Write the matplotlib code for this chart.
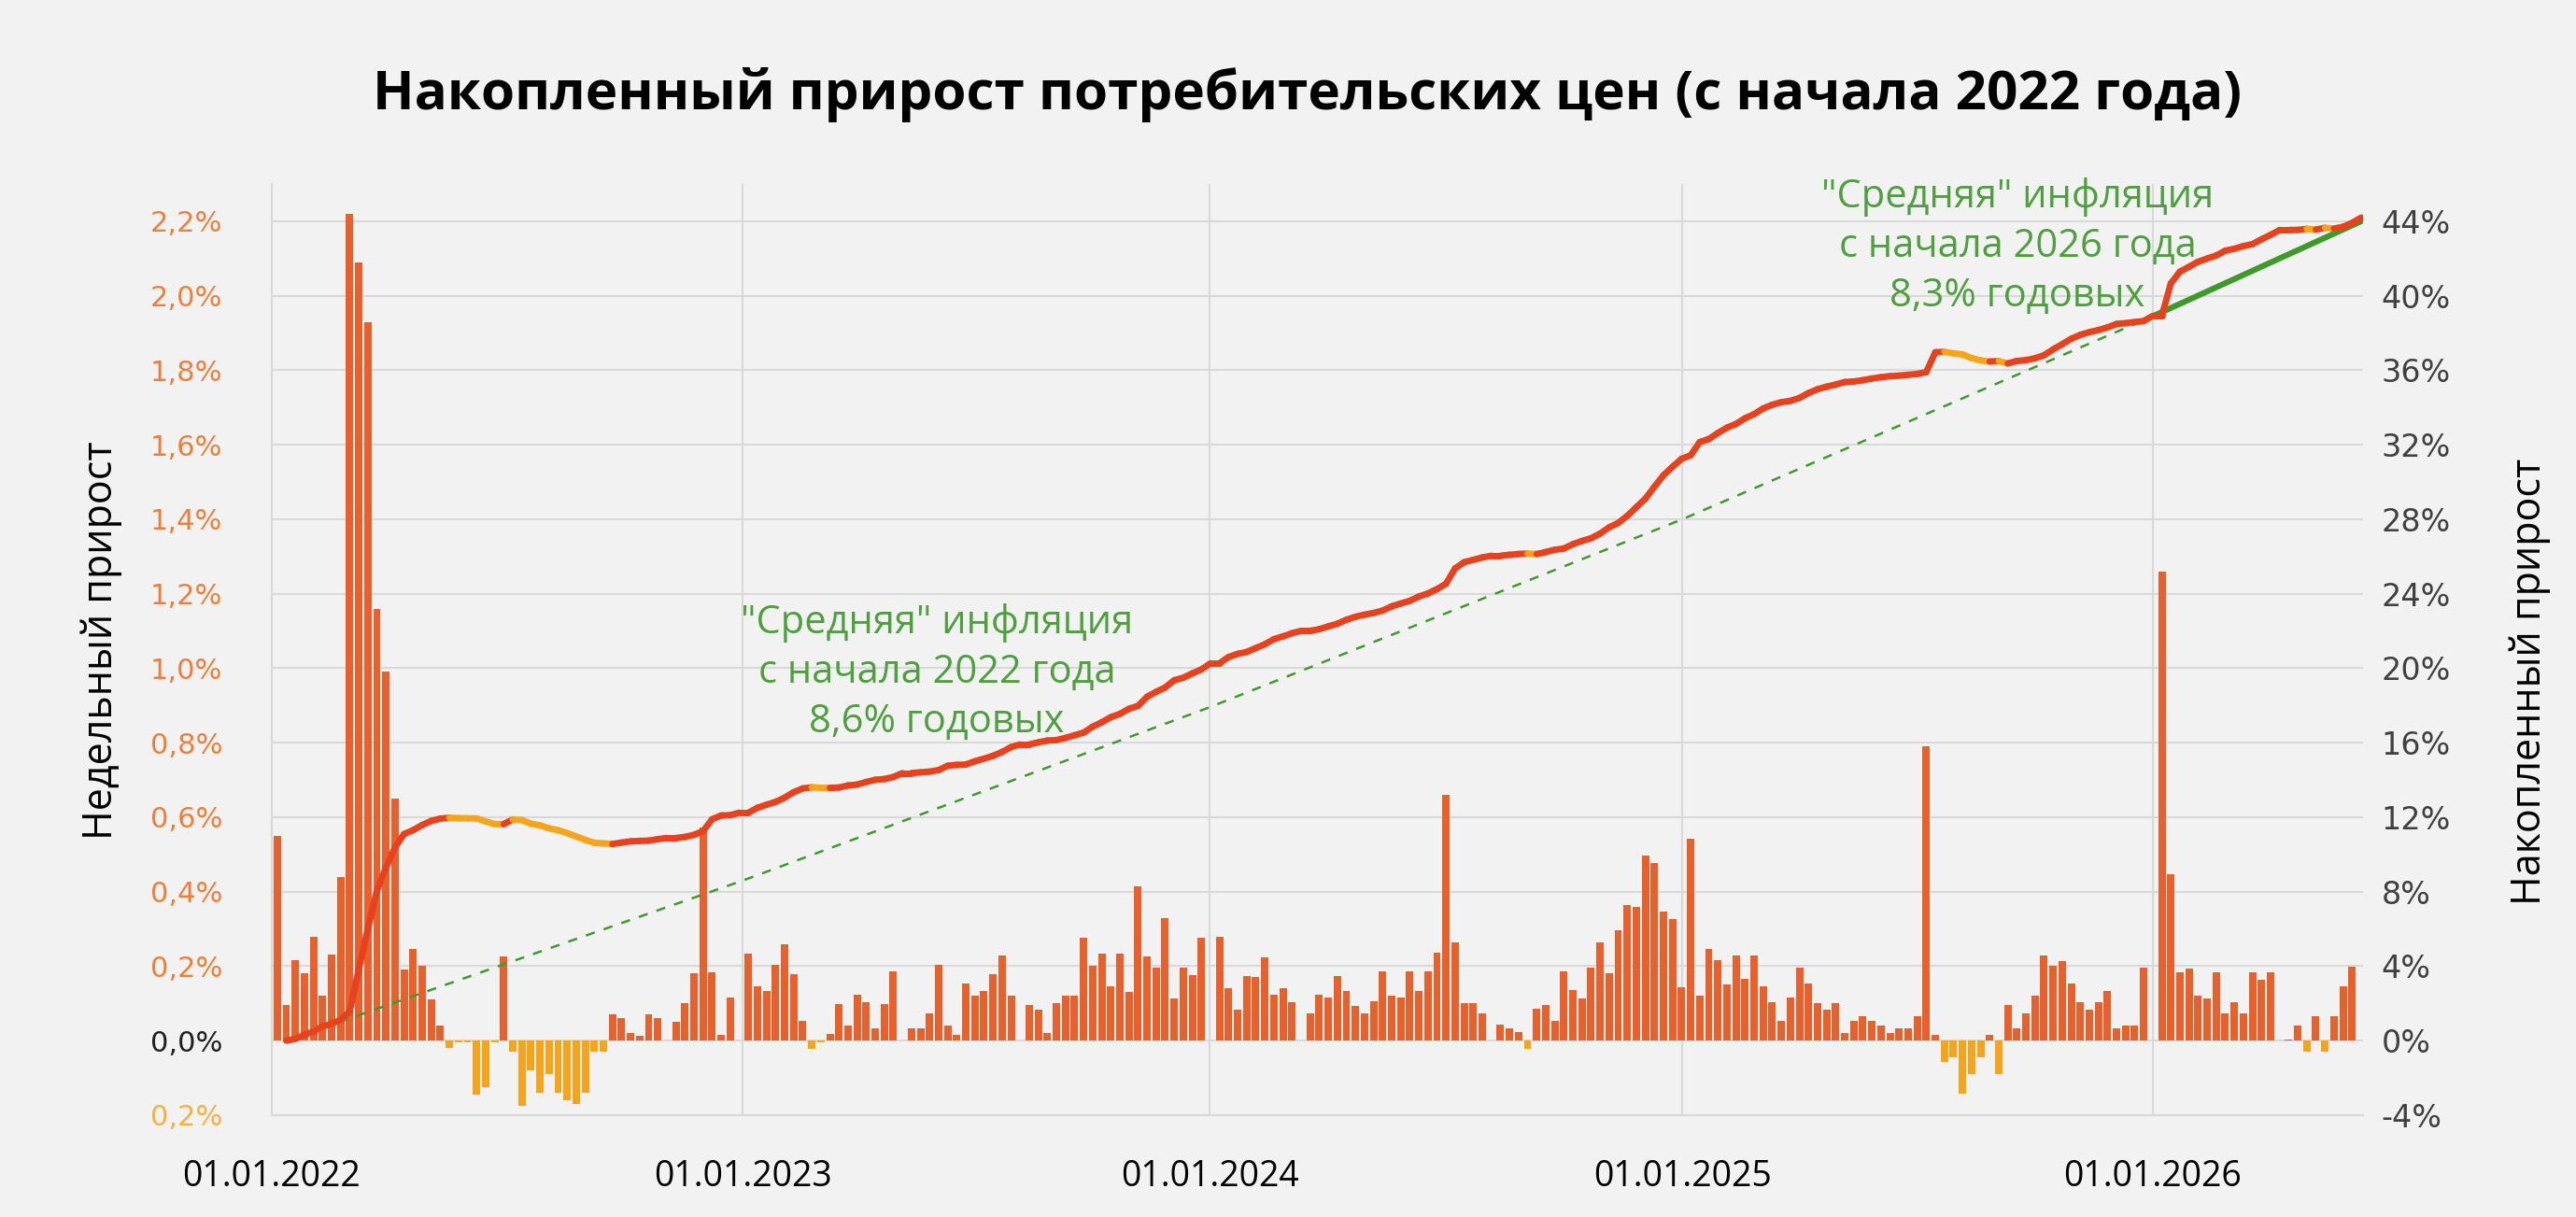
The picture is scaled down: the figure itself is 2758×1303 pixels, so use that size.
import numpy as np
import matplotlib.pyplot as plt
from matplotlib.collections import LineCollection

# weekly CPI growth, %, one value per week
weekly_2022 = [0.55, 0.095, 0.215, 0.18, 0.28, 0.12, 0.23, 0.44, 2.22, 2.09,
               1.93, 1.16, 0.99, 0.65, 0.19, 0.245, 0.20, 0.11, 0.04, -0.02,
               -0.005, -0.005, -0.145, -0.125, -0.005, 0.225, -0.03, -0.175, -0.08, -0.14,
               -0.09, -0.14, -0.16, -0.17, -0.14, -0.03, -0.03, 0.07, 0.06, 0.02,
               0.013, 0.07, 0.06, 0.0, 0.05, 0.10, 0.18, 0.573, 0.183, 0.015,
               0.117, 0.0]
weekly_2023 = [0.234, 0.147, 0.134, 0.203, 0.259, 0.179, 0.053, -0.023, -0.005, 0.017,
               0.098, 0.041, 0.123, 0.103, 0.034, 0.098, 0.185, 0.0, 0.034, 0.034,
               0.073, 0.203, 0.041, 0.015, 0.153, 0.121, 0.134, 0.178, 0.229, 0.121,
               0.0, 0.097, 0.083, 0.021, 0.102, 0.121, 0.121, 0.276, 0.202, 0.234,
               0.147, 0.234, 0.132, 0.414, 0.227, 0.195, 0.329, 0.113, 0.195, 0.176,
               0.276]
weekly_2024 = [0.0, 0.279, 0.141,
               0.084, 0.173, 0.171, 0.224, 0.123, 0.141, 0.103, 0.0, 0.073, 0.123,
               0.116, 0.173, 0.134, 0.092, 0.073, 0.105, 0.186, 0.122, 0.117, 0.186,
               0.134, 0.186, 0.236, 0.659, 0.265, 0.102, 0.102, 0.072, 0.0, 0.042,
               0.032, 0.022, -0.023, 0.085, 0.097, 0.053, 0.185, 0.136, 0.114, 0.197,
               0.265, 0.182, 0.297, 0.364, 0.358, 0.497, 0.477, 0.346, 0.327, 0.144]
weekly_2025 = [0.541, 0.121, 0.246, 0.216, 0.151, 0.229, 0.166, 0.229,
               0.147, 0.104, 0.052, 0.117, 0.195, 0.153, 0.102, 0.083, 0.102, 0.021,
               0.052, 0.066, 0.053, 0.041, 0.021, 0.034, 0.034, 0.066, 0.79, 0.015,
               -0.057, -0.044, -0.142, -0.091, -0.044, 0.015, -0.091, 0.097, 0.032, 0.072,
               0.121, 0.229, 0.202, 0.214, 0.153, 0.103, 0.083, 0.103, 0.134, 0.032,
               0.041, 0.041, 0.197, 0.0]
weekly_2026 = [1.26, 0.446, 0.183, 0.193, 0.121, 0.114, 0.183, 0.072, 0.103, 0.072,
               0.183, 0.164, 0.183, 0.0, 0.004, 0.041, -0.029, 0.066, -0.029, 0.066,
               0.147, 0.198]

year_labels = ['01.01.2022', '01.01.2023', '01.01.2024', '01.01.2025', '01.01.2026']
year_pos = [-0.6, 51.4, 102.9, 155.1, 207.0]

# "average" inflation lines (right axis, %)
trend22_x = [1, 51.4, 102.9, 155.1, 207.0]
trend22_y = [0, 8.6, 17.9, 28.0, 38.9]
trend26_x = [207.0, 230]
trend26_y = [38.9, 44.0]

weekly = np.array(weekly_2022 + weekly_2023 + weekly_2024 + weekly_2025 + weekly_2026)
n = len(weekly)
weeks = np.arange(n)

# cumulative growth since start
cum = np.concatenate([[0.0], (np.cumprod(1 + weekly[1:] / 100) - 1) * 100])
cum_x = weeks + 1

BG = '#F2F2F2'
RED = '#E8411E'
ORANGE = '#F5A41C'
BAR = '#E8602C'
GREEN = '#3F9A2C'
GRID = '#D9D9D9'
FONT = ['Open Sans', 'DejaVu Sans']

fig = plt.figure(figsize=(27.58, 13.03), dpi=100, facecolor=BG)
ax = fig.add_axes([0.1055, 0.0837, 0.8118, 0.7651], facecolor=BG)
ax2 = ax.twinx()

colors = [BAR if v >= 0 else ORANGE for v in weekly]
ax.bar(weeks, weekly, width=0.82, color=colors, zorder=2)

ax.set_xlim(-0.6, 230.2)
ax.set_ylim(-0.2, 2.3)
ax2.set_ylim(-4, 46)

lticks = np.round(np.arange(-0.2, 2.21, 0.2), 1)
ax.set_yticks(lticks)
ax.set_yticklabels([('%.1f%%' % abs(v)).replace('.', ',') for v in lticks])
for lab, v in zip(ax.get_yticklabels(), lticks):
    if v < 0:
        lab.set_color('#F5B041')
    elif v == 0:
        lab.set_color('#202020')
    else:
        lab.set_color('#EE7F3A')
ax.grid(axis='y', color=GRID, lw=1.5, zorder=0)
ax.set_xticks(year_pos)
ax.set_xticklabels(year_labels, fontsize=27, family=FONT)
for xp in year_pos[1:]:
    ax.axvline(xp, color=GRID, lw=1.5, zorder=0)
ax.tick_params(axis='y', length=0, labelsize=22, pad=38)
ax.tick_params(axis='x', length=0, pad=34)

rticks = np.arange(-4, 45, 4)
ax2.set_yticks(rticks)
ax2.set_yticklabels(['%d%%' % v for v in rticks], color='#404040')
ax2.tick_params(axis='y', length=0, labelsize=24, pad=14)

for a in (ax, ax2):
    for s in ['top', 'right']:
        a.spines[s].set_visible(False)
    a.spines['left'].set_color(GRID)
    a.spines['bottom'].set_color(GRID)
    a.spines['left'].set_linewidth(1.5)
    a.spines['bottom'].set_linewidth(1.5)

# trend lines
ax2.plot(trend22_x, trend22_y, color=GREEN, lw=1.8, dashes=(4, 4), zorder=3)
ax2.plot(trend26_x, trend26_y, color=GREEN, lw=4.5, solid_capstyle='round', zorder=3)

# cumulative line, orange where prices fell
pts = np.column_stack([cum_x, cum])
segs = np.stack([pts[:-1], pts[1:]], axis=1)
seg_colors = [ORANGE if v < 0 else RED for v in weekly[1:]]
lc = LineCollection(segs, colors=seg_colors, linewidths=5, capstyle='round',
                    joinstyle='round', zorder=4)
ax2.add_collection(lc)

fig.text(0.5076, 0.922, 'Накопленный прирост потребительских цен (с начала 2022 года)',
         ha='center', va='center', fontsize=42, fontweight='bold', family=FONT)
fig.text(0.0395, 0.4735, 'Недельный прирост', rotation=90, ha='center', va='center',
         fontsize=31, family=FONT)
fig.text(0.982, 0.44, 'Накопленный прирост', rotation=90, ha='center', va='center',
         fontsize=31, family=FONT)

fig.text(0.3637, 0.4474, '"Средняя" инфляция\nс начала 2022 года\n8,6% годовых',
         ha='center', va='center', fontsize=30, color='#4E9F3D', linespacing=1.33,
         family=FONT)
fig.text(0.7832, 0.7974, '"Средняя" инфляция\nс начала 2026 года\n8,3% годовых',
         ha='center', va='center', fontsize=30, color='#4E9F3D', linespacing=1.33,
         family=FONT)

fig.savefig('out.png', dpi=100, facecolor=BG)
